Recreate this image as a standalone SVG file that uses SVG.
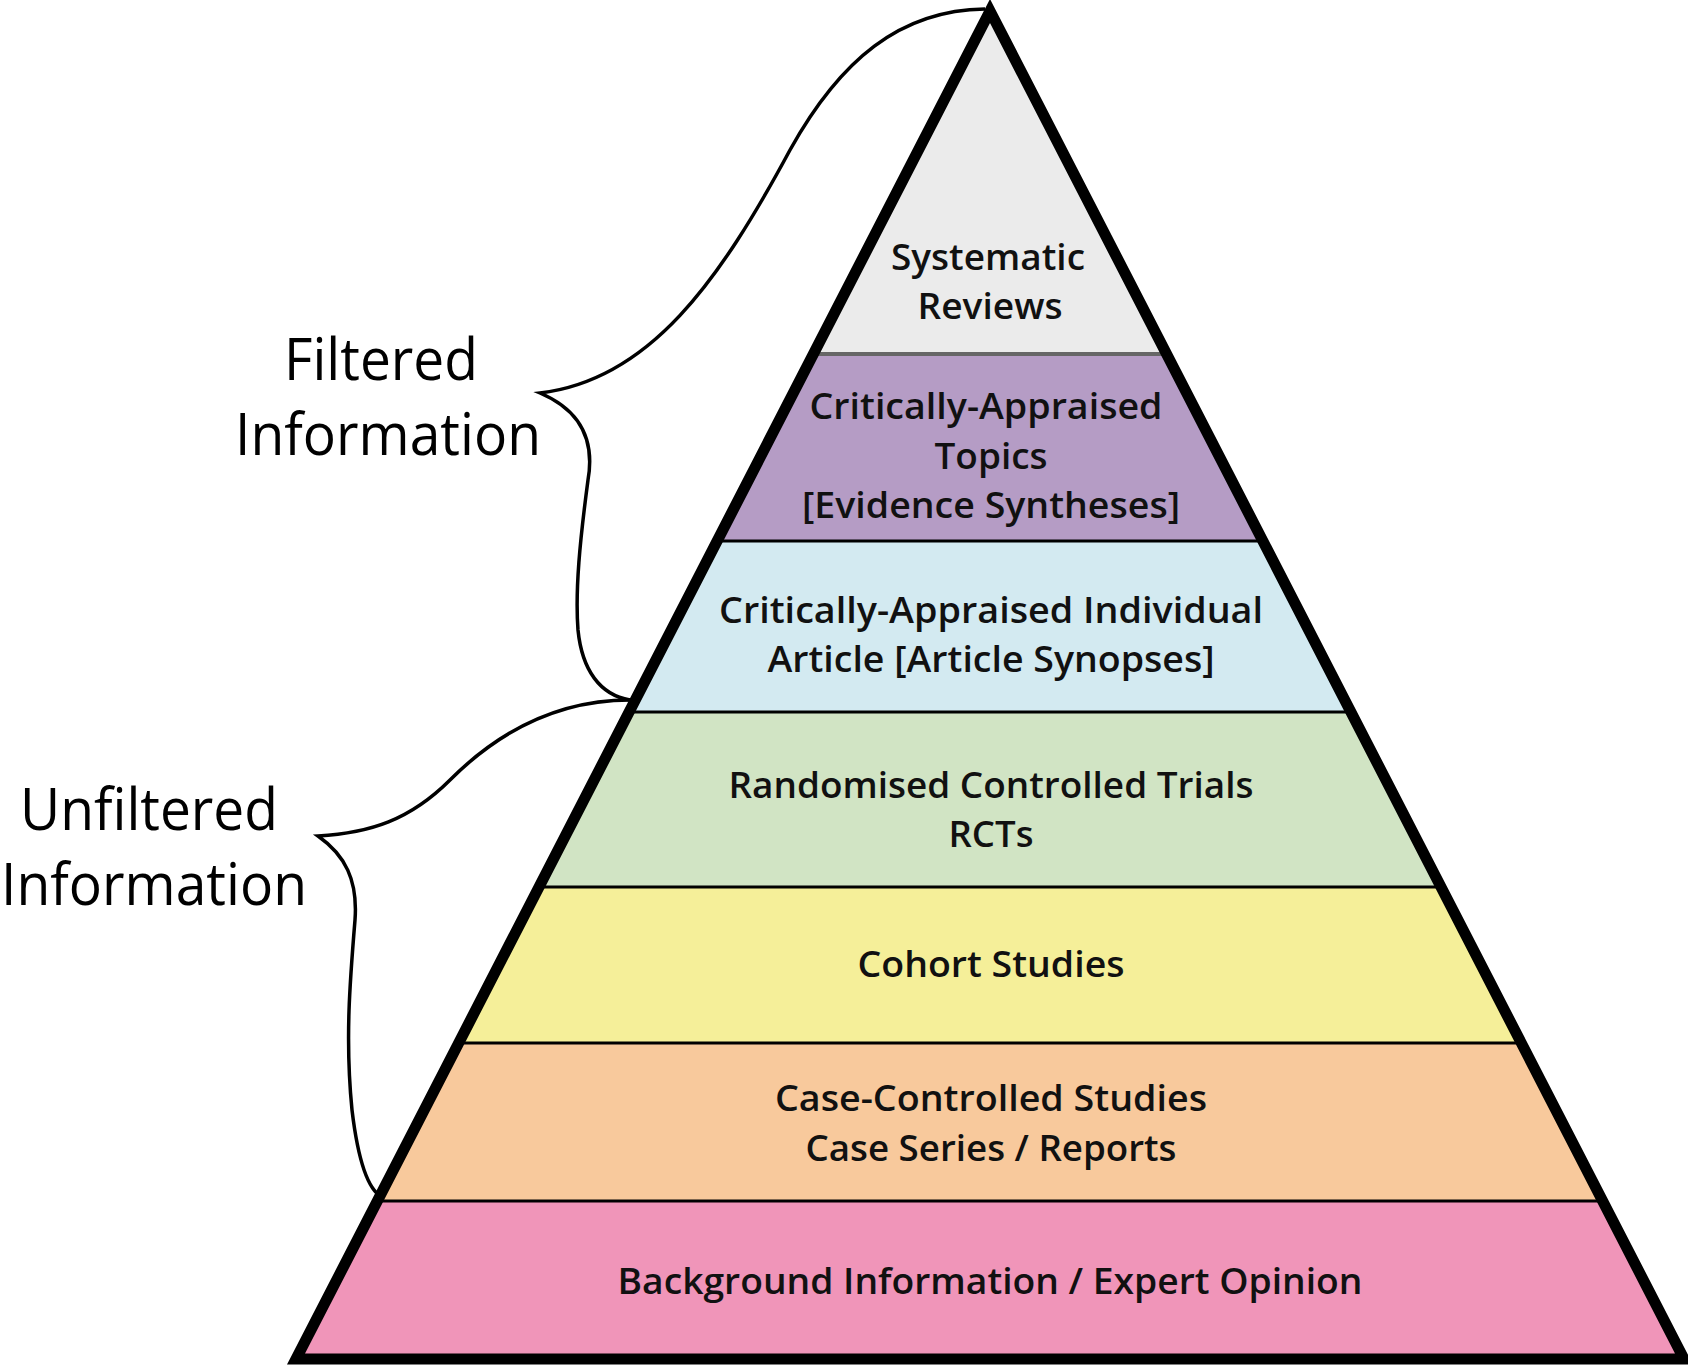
<svg xmlns="http://www.w3.org/2000/svg" width="1688" height="1366" viewBox="0 0 1688 1366">
<style>
.b{stroke:#000;stroke-width:3}
.t{font-family:"Open Sans","Noto Sans",sans-serif;font-weight:600;font-size:36px;text-anchor:middle;fill:#111}
.l{font-family:"Open Sans","Noto Sans",sans-serif;font-size:58px;text-anchor:middle;fill:#000}
.br{fill:none;stroke:#000;stroke-width:3.5}
</style>
<rect width="1688" height="1366" fill="#fff"/>
<g id="systematic"><polygon points="990,11 814,354 1166,354" fill="#ebebeb"/>
<text class="t" x="988" y="270" textLength="194" lengthAdjust="spacingAndGlyphs">Systematic</text>
<text class="t" x="990" y="319" textLength="145" lengthAdjust="spacingAndGlyphs">Reviews</text></g>
<g id="cat"><polygon points="814,354 1166,354 1263,541 717,541" fill="#b59cc5"/>
<text class="t" x="986" y="419" textLength="353" lengthAdjust="spacingAndGlyphs">Critically-Appraised</text>
<text class="t" x="991" y="469" textLength="113" lengthAdjust="spacingAndGlyphs">Topics</text>
<text class="t" x="991" y="518" textLength="378" lengthAdjust="spacingAndGlyphs">[Evidence Syntheses]</text></g>
<g id="cai"><polygon points="717,541 1263,541 1351,712 629,712" fill="#d3eaf1"/>
<text class="t" x="991" y="623" textLength="544" lengthAdjust="spacingAndGlyphs">Critically-Appraised Individual</text>
<text class="t" x="991" y="672" textLength="447" lengthAdjust="spacingAndGlyphs">Article [Article Synopses]</text></g>
<g id="rct"><polygon points="629,712 1351,712 1441,887 539,887" fill="#d1e4c4"/>
<text class="t" x="991" y="798" textLength="525" lengthAdjust="spacingAndGlyphs">Randomised Controlled Trials</text>
<text class="t" x="991" y="847" textLength="85" lengthAdjust="spacingAndGlyphs">RCTs</text></g>
<g id="cohort"><polygon points="539,887 1441,887 1521,1043 459,1043" fill="#f5ef99"/>
<text class="t" x="991" y="977" textLength="267" lengthAdjust="spacingAndGlyphs">Cohort Studies</text></g>
<g id="case"><polygon points="459,1043 1521,1043 1603,1201 377,1201" fill="#f8c99c"/>
<text class="t" x="991" y="1111" textLength="432" lengthAdjust="spacingAndGlyphs">Case-Controlled Studies</text>
<text class="t" x="991" y="1161" textLength="371" lengthAdjust="spacingAndGlyphs">Case Series / Reports</text></g>
<g id="background"><polygon points="377,1201 1603,1201 1684,1359 296,1359" fill="#f095b9"/>
<text class="t" x="990" y="1294" textLength="745" lengthAdjust="spacingAndGlyphs">Background Information / Expert Opinion</text></g>
<g id="lines">
<line x1="814" y1="354" x2="1166" y2="354" stroke="#666" stroke-width="4"/>
<line class="b" x1="717" y1="541" x2="1263" y2="541"/>
<line class="b" x1="629" y1="712" x2="1351" y2="712"/>
<line class="b" x1="539" y1="887" x2="1441" y2="887"/>
<line class="b" x1="459" y1="1043" x2="1521" y2="1043"/>
<line class="b" x1="377" y1="1201" x2="1603" y2="1201"/>
<polygon points="990,11 296,1359 1684,1359" fill="none" stroke="#000" stroke-width="11" stroke-linejoin="miter"/>
</g>
<g id="connectors">
<path class="br" d="M 985 9 C 900 10 840 60 790 150 C 720 280 650 380 540 393 C 580 410 595 440 588 480 C 580 540 575 590 578 630 C 582 670 600 695 630 700"/>
<path class="br" d="M 630 700 C 560 700 500 730 450 780 C 410 820 370 833 318 836 C 345 855 358 880 355 920 C 350 980 345 1040 352 1110 C 358 1160 368 1190 382 1197"/>
</g>
<g id="filtered"><text class="l" x="381" y="380" textLength="194" lengthAdjust="spacingAndGlyphs">Filtered</text>
<text class="l" x="388" y="455" textLength="306" lengthAdjust="spacingAndGlyphs">Information</text></g>
<g id="unfiltered"><text class="l" x="149" y="830" textLength="258" lengthAdjust="spacingAndGlyphs">Unfiltered</text>
<text class="l" x="154" y="905" textLength="306" lengthAdjust="spacingAndGlyphs">Information</text></g>
</svg>
